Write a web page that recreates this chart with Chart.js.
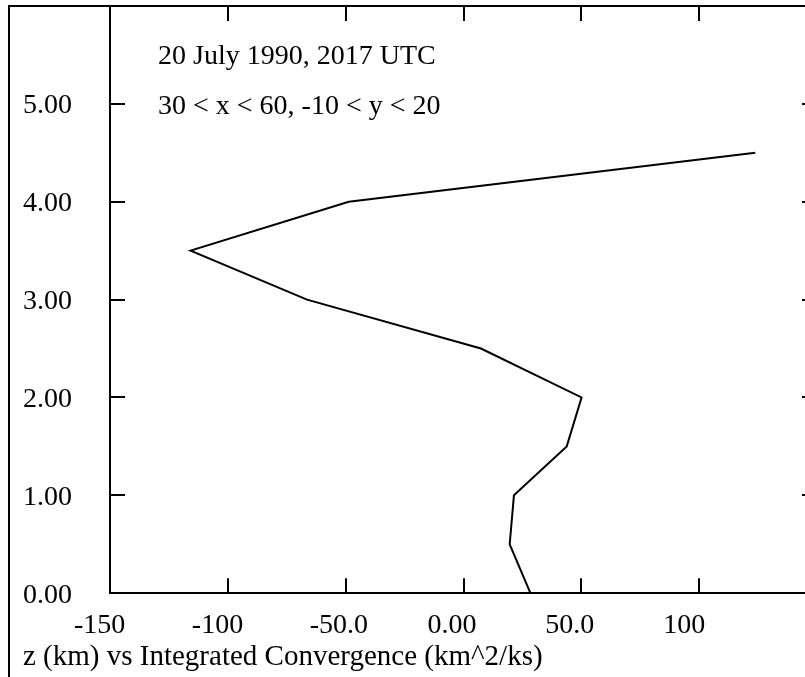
<!DOCTYPE html>
<html>
<head>
<meta charset="utf-8">
<script src="https://cdn.jsdelivr.net/npm/chart.js@4.4.0/dist/chart.umd.min.js"></script>
<style>
  html, body { margin: 0; padding: 0; background: #fff; overflow: hidden; }
  canvas { display: block; }
</style>
</head>
<body>
<canvas id="profile" width="840" height="677"></canvas>
<script>
// vertical profile: height z (km) against integrated convergence
const heights = [0, 0.5, 1.0, 1.5, 2.0, 2.5, 3.0, 3.5, 4.0, 4.5];
const convergence = [28.4, 19.6, 21.4, 43.8, 50.1, 7.4, -66.4, -115.8, -48.7, 123.8];

const xTickValues = [-150, -100, -50, 0, 50, 100, 150];
const xTickLabels = ['-150', '-100', '-50.0', '0.00', '50.0', '100', ''];
const zTickValues = [0, 1, 2, 3, 4, 5, 6];
const zTickLabels = ['0.00', '1.00', '2.00', '3.00', '4.00', '5.00', ''];

const headerLines = ['20 July 1990, 2017 UTC', '30 < x < 60, -10 < y < 20'];
const footerText = 'z (km) vs Integrated Convergence (km^2/ks)';

const fontFamily = '"Liberation Serif", "Times New Roman", serif';
const fontSize = 28;
const tickLen = 15;

Chart.defaults.font.family = fontFamily;
Chart.defaults.font.size = fontSize;
Chart.defaults.color = '#000';

function useTicks(values) {
    return scale => {
        scale.ticks = values.map(value => ({ value }));
    };
}

function labelFor(values, labels) {
    return value => {
        const i = values.indexOf(value);
        return i >= 0 ? labels[i] : '';
    };
}

// fixed box sizes, and no extra room for overhanging labels
function fixSize(width, height) {
    return scale => {
        if (width !== null) scale.width = width;
        if (height !== null) scale.height = height;
        scale.paddingTop = 0;
        scale.paddingBottom = 0;
        scale.paddingLeft = 0;
        scale.paddingRight = 0;
    };
}

// ticks point into the plot from all four sides
const inwardTicks = {
    id: 'inwardTicks',
    afterDraw(chart) {
        const { ctx, chartArea: area, scales } = chart;
        ctx.save();
        ctx.strokeStyle = '#000';
        ctx.lineWidth = 2;
        ctx.beginPath();
        xTickValues.forEach(v => {
            const px = Math.round(scales.x.getPixelForValue(v));
            ctx.moveTo(px, area.bottom);
            ctx.lineTo(px, area.bottom - tickLen);
            ctx.moveTo(px, area.top);
            ctx.lineTo(px, area.top + tickLen);
        });
        zTickValues.forEach(v => {
            const py = Math.round(scales.y.getPixelForValue(v));
            ctx.moveTo(area.left, py);
            ctx.lineTo(area.left + tickLen, py);
            ctx.moveTo(area.right, py);
            ctx.lineTo(area.right - tickLen, py);
        });
        ctx.stroke();

        // outer frame: left edge and top edge
        ctx.beginPath();
        ctx.moveTo(9, chart.height);
        ctx.lineTo(9, area.top);
        ctx.lineTo(chart.width, area.top);
        ctx.stroke();

        ctx.fillStyle = '#000';
        ctx.font = fontSize + 'px ' + fontFamily;
        ctx.textBaseline = 'alphabetic';
        ctx.fillText(headerLines[0], 158, 64);
        ctx.fillText(headerLines[1], 158, 114);
        ctx.restore();
    }
};

new Chart(document.getElementById('profile'), {
    type: 'line',
    data: {
        datasets: [{
            data: heights.map((z, i) => ({ x: convergence[i], y: z })),
            borderColor: '#000',
            borderWidth: 2,
            pointRadius: 0,
            tension: 0,
            fill: false
        }]
    },
    options: {
        responsive: false,
        animation: false,
        events: [],
        layout: { padding: { left: 23, top: 6, right: 0, bottom: 0 } },
        plugins: {
            legend: { display: false },
            tooltip: { enabled: false },
            title: {
                display: true,
                position: 'bottom',
                align: 'start',
                text: footerText,
                font: { size: 29, weight: 'normal' },
                color: '#000',
                padding: { top: 2, bottom: 2 }
            }
        },
        scales: {
            x: {
                type: 'linear',
                position: 'bottom',
                min: -150,
                max: 150,
                afterBuildTicks: useTicks(xTickValues),
                afterFit: fixSize(null, 45),
                grid: { display: false, drawTicks: false },
                border: { color: '#000', width: 2 },
                ticks: {
                    autoSkip: false,
                    maxRotation: 0,
                    align: 'start',
                    labelOffset: -36,
                    padding: 16,
                    callback: labelFor(xTickValues, xTickLabels)
                }
            },
            x2: {
                type: 'linear',
                position: 'top',
                min: -150,
                max: 150,
                afterFit: fixSize(null, 0),
                grid: { display: false, drawTicks: false },
                border: { color: '#000', width: 2 },
                ticks: { display: false }
            },
            y: {
                type: 'linear',
                position: 'left',
                min: 0,
                max: 6,
                afterBuildTicks: useTicks(zTickValues),
                afterFit: fixSize(87, null),
                grid: { display: false, drawTicks: false },
                border: { color: '#000', width: 2 },
                ticks: {
                    autoSkip: false,
                    crossAlign: 'far',
                    labelOffset: 2,
                    callback: labelFor(zTickValues, zTickLabels)
                }
            },
            y2: {
                type: 'linear',
                position: 'right',
                min: 0,
                max: 6,
                afterFit: fixSize(23, null),
                grid: { display: false, drawTicks: false },
                border: { color: '#000', width: 2 },
                ticks: { display: false }
            }
        }
    },
    plugins: [inwardTicks]
});
</script>
</body>
</html>
